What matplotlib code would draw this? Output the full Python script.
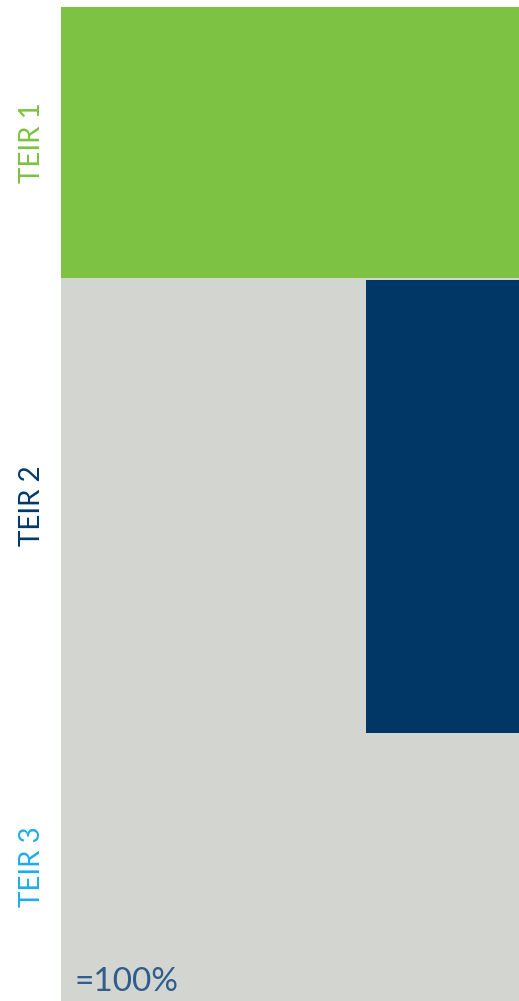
import numpy as np
import matplotlib
matplotlib.use('agg')
import matplotlib.pyplot as plt
import matplotlib.transforms as mtransforms

# share of total (%) for each tier, top to bottom
tiers = ['TEIR 1', 'TEIR 2', 'TEIR 3']
tier_share = [27.3, 45.7, 27.0]
# fraction of tier 2 width that is highlighted (right side)
tier2_highlight = 0.334
total_label = '=100%'

tier_colors = ['#7dc242', '#d3d5d0', '#d3d5d0']
label_colors = ['#7dc242', '#00386a', '#1eaeea']
highlight_color = '#003767'

plt.rcParams['font.family'] = ['Lato', 'DejaVu Sans']

fig = plt.figure(figsize=(5.19, 10.01), dpi=100)
ax = fig.add_axes([61/519, 0, 458/519, 994/1001])

bottoms = np.concatenate([[0], np.cumsum(tier_share)[:-1]])
ax.bar(0.5, tier_share, bottom=bottoms, width=1.0, color=tier_colors,
       linewidth=0, antialiased=False)
ax.bar(1 - tier2_highlight/2, tier_share[1] - 0.2, bottom=bottoms[1] + 0.2,
       width=tier2_highlight, color=highlight_color, linewidth=0, antialiased=False)

ax.set_xlim(0, 1)
ax.set_ylim(sum(tier_share), 0)
ax.axis('off')

trans = mtransforms.blended_transform_factory(ax.transAxes, ax.transData)
for name, b, h, c in zip(tiers, bottoms, tier_share, label_colors):
    ax.text(-0.064, b + h/2, name, transform=trans, rotation=90, ha='center', va='center',
            color=c, fontsize=20)

ax.text(0.03, 0.004, total_label, transform=ax.transAxes, ha='left', va='bottom',
        color='#2f5d8c', fontsize=24)

fig.savefig('out.png', dpi=100)
